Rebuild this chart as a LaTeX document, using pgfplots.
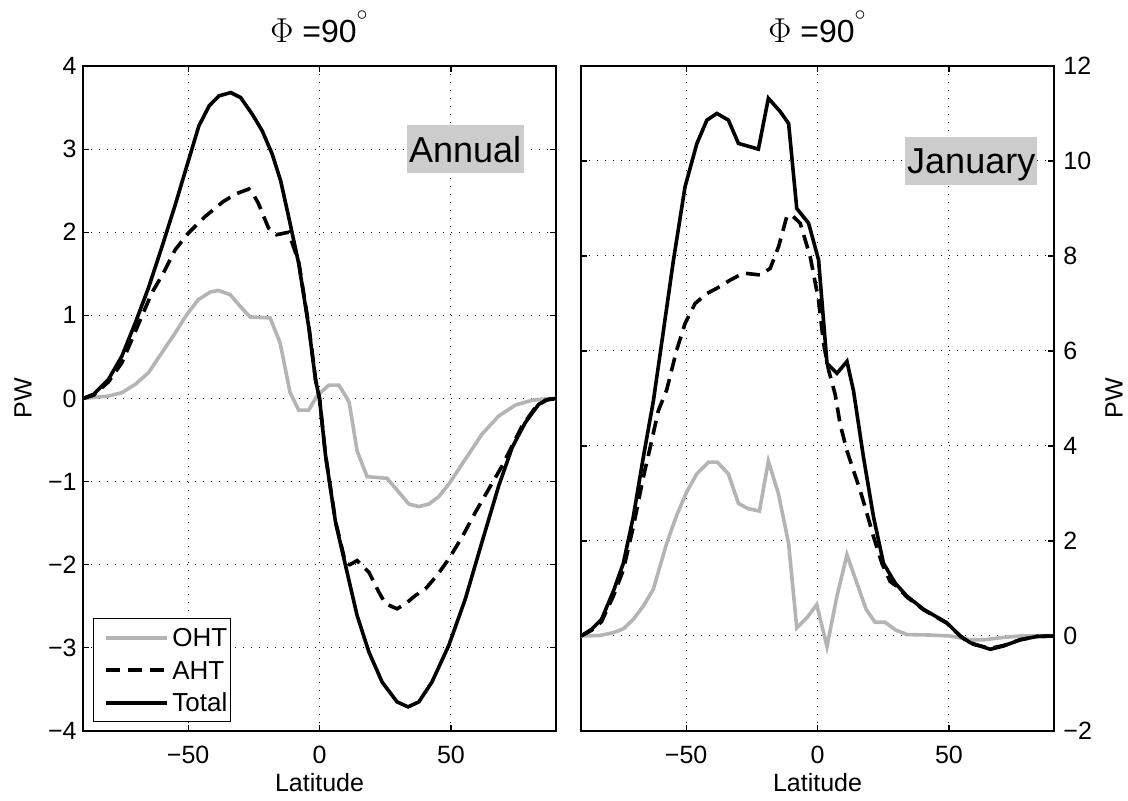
\documentclass[border=0pt]{standalone}
\usepackage{fontspec}
\setmainfont{Liberation Sans}
\usepackage{pgfplots}
\pgfplotsset{compat=1.18}
\definecolor{ohtgray}{RGB}{180,180,180}
\definecolor{boxgray}{RGB}{204,204,204}
\makeatletter
\newcommand{\legbbzero}{\pgf@protocolsizes{0pt}{0pt}}
\makeatother

\pgfplotstableread{
lat val
-90 0
-86 0.05
-80.3 0.23
-75.2 0.51
-70.1 0.91
-65.1 1.33
-60 1.82
-55 2.32
-49.7 2.88
-45.9 3.28
-42 3.52
-38.3 3.64
-33.8 3.68
-30 3.62
-25.6 3.42
-21.8 3.22
-18 2.94
-14.8 2.62
-11.7 2.18
-7.9 1.62
-4.1 0.86
-1.5 0.22
0 0
2.3 -0.69
6.1 -1.49
9.9 -2.01
14.3 -2.61
18.8 -3.05
23.8 -3.41
29.5 -3.65
33.7 -3.71
37.8 -3.65
42.8 -3.41
49.2 -2.97
55.5 -2.41
61.8 -1.73
68.2 -1.05
73.3 -0.59
78.3 -0.29
83.4 -0.07
87 -0.01
90 0
}\annTotal

\pgfplotstableread{
lat val
-90 0
-86 0.04
-80.3 0.2
-75.2 0.43
-71.4 0.71
-67.6 0.99
-63.8 1.27
-59.4 1.51
-54.9 1.79
-49.9 1.99
-43.5 2.19
-36.6 2.37
-31.9 2.46
-26.9 2.52
-25.6 2.48
-23.3 2.35
-19.4 2.05
-16.3 1.97
-11.8 2.0
-7.9 1.64
-4.1 0.88
-1.5 0.23
0 0
2.3 -0.68
6.1 -1.48
9.9 -1.98
11.5 -2.0
14.3 -1.95
18.8 -2.09
22.6 -2.33
25.1 -2.47
29.5 -2.53
32.7 -2.47
36.5 -2.37
40.3 -2.29
44.7 -2.13
49.2 -1.93
54.2 -1.67
59.3 -1.37
64.4 -1.09
69.5 -0.81
73.3 -0.57
77.1 -0.33
82.1 -0.11
86 -0.02
90 0
}\annAHT

\pgfplotstableread{
lat val
-90 0
-80.3 0.03
-75.2 0.07
-70.1 0.17
-65.1 0.31
-60 0.55
-54.9 0.79
-50.5 1.01
-46.1 1.19
-41.6 1.28
-38.5 1.3
-34 1.25
-30.2 1.11
-26.4 0.98
-18.8 0.97
-15 0.67
-11.2 0.07
-9.3 -0.05
-7.9 -0.14
-4.1 -0.14
-1 0.03
3.5 0.16
7.4 0.16
10.5 0
11.3 -0.05
14.3 -0.63
18.1 -0.94
25.7 -0.96
34 -1.27
37.8 -1.3
41.6 -1.27
45.4 -1.18
49.2 -1.03
55.5 -0.73
61.8 -0.43
68.2 -0.21
74.5 -0.08
80.9 -0.02
86 -0.005
90 0
}\annOHT

\pgfplotstableread{
lat val
-90 0
-86 0.14
-82.2 0.35
-77.7 0.94
-73.9 1.53
-70.1 2.51
-66.3 3.76
-62.4 4.97
-58.6 6.44
-54.8 7.92
-50.4 9.46
-45.9 10.37
-42.1 10.86
-38.3 11.0
-33.9 10.86
-30.1 10.37
-22.5 10.25
-18.7 11.32
-14.2 11.04
-11 10.79
-7.9 9.0
-3.4 8.69
0.4 7.92
3.6 5.74
7.4 5.53
11.2 5.78
13.7 5.16
17.5 3.76
21.3 2.51
25.1 1.53
29.6 1.11
34 0.84
40.4 0.56
49.2 0.28
54.3 0
58.1 -0.14
65.7 -0.28
70.8 -0.21
77.1 -0.08
83.5 -0.01
90 0
}\janTotal

\pgfplotstableread{
lat val
-90 0
-86 0.12
-82.2 0.3
-77.7 0.84
-73.9 1.39
-70.1 2.3
-66.3 3.34
-63.1 4.11
-60.6 4.74
-57.4 5.18
-53.6 6.02
-50.4 6.58
-46.6 7.0
-42.1 7.21
-38.3 7.32
-33.3 7.49
-28.2 7.64
-21.8 7.6
-18 7.74
-14.8 8.2
-11.7 8.83
-9.8 8.86
-6.6 8.69
-2.8 7.99
0.4 7.07
2.3 6.16
4.2 5.6
6.7 5.09
8.6 4.46
11.2 3.9
13.7 3.48
16.2 3.07
18.8 2.58
21.3 2.09
24.5 1.53
27.6 1.15
30 1.05
34 0.82
40.4 0.55
49.2 0.27
54.3 0
58.1 -0.16
65.7 -0.26
70.8 -0.2
77.1 -0.08
83.5 -0.01
90 0
}\janAHT

\pgfplotstableread{
lat val
-90 0
-82.9 0.01
-77.7 0.07
-73.9 0.15
-70.1 0.35
-66.3 0.63
-62.5 0.98
-57.4 1.95
-53.6 2.54
-49.8 3.03
-46 3.41
-41.5 3.66
-38.1 3.66
-33.9 3.41
-30.1 2.79
-26.3 2.68
-22.1 2.63
-18.7 3.68
-14.9 3.0
-11 1.95
-7.9 0.17
-4.1 0.38
-0.3 0.66
3.6 -0.22
7.4 0.84
11.2 1.71
15 1.11
18.5 0.56
21.9 0.29
25.7 0.29
29.6 0.13
34 0.03
42.9 0.02
50.5 0
58.1 -0.08
63.2 -0.08
70.8 -0.03
77.1 0
90 0.01
}\janOHT

\pgfplotsset{
  mystyle/.style={
    scale only axis, width=236.5pt, height=332.5pt,
    xmin=-90, xmax=90,
    clip mode=individual,
    xtick={-50,0,50}, xticklabels={−50,0,50},
    grid=major,
    major grid style={black, line width=0.5pt, dash pattern=on 0.5pt off 3.5pt},
    tick align=inside,
    major tick length=2.8pt,
    axis line style={line width=0.7pt},
    every tick/.style={black, line width=0.6pt},
    tick label style={font=\fontsize{12.5}{14}\selectfont},
    xticklabel style={anchor=base, inner sep=0pt, yshift=-16.5pt},
    label style={font=\fontsize{12.5}{14}\selectfont},
    xlabel={Latitude},
    xlabel style={at={(axis description cs:0.5,0)}, anchor=base, yshift=-30.5pt, inner sep=0pt},
    ylabel={PW},
  },
}
\newcommand{\phititle}{$\Phi$ =90\raisebox{4.6pt}{$^{\circ}$}}

\begin{document}
\begin{tikzpicture}
\begin{axis}[mystyle,
  at={(41.5pt,35pt)}, anchor=south west,
  ymin=-4, ymax=4, ytick={-4,-3,...,4},
  yticklabels={−4,−3,−2,−1,0,1,2,3,4},
  yticklabel style={anchor=east, inner sep=0pt, xshift=-3pt},
  ylabel style={at={(axis description cs:-0.1266,0.5)}, anchor=center, rotate=0},
  legend cell align=left,
  legend style={at={(axis description cs:0.0211,0.0135)}, anchor=south west,
    draw=black, inner xsep=0pt, inner ysep=1.4pt,
    font=\fontsize{13}{15}\selectfont, row sep=0pt,
    nodes={inner xsep=1.75pt, inner ysep=3.47pt, text height=9.3pt, text depth=0pt, font=\fontsize{13}{15}\selectfont}},
  legend image code/.code={\legbbzero\draw[#1, line width=2pt] plot coordinates {(5.25pt,0pt) (20.5pt,0pt) (35.75pt,0pt)};},
]
\addplot[color=ohtgray, line width=1.8pt] table[x=lat,y=val] {\annOHT};
\addlegendentry{OHT}
\addplot[color=black, line width=1.8pt, dashed, dash pattern=on 7pt off 4pt] table[x=lat,y=val] {\annAHT};
\addlegendentry{AHT}
\addplot[color=black, line width=1.8pt] table[x=lat,y=val] {\annTotal};
\addlegendentry{Total}
\node[fill=boxgray, inner sep=0pt, minimum width=58.5pt, minimum height=24pt,
  text height=12.9pt, text depth=0pt, font=\fontsize{18}{20}\selectfont]
  at (axis cs:55.4,3.0) {Annual};
\node[anchor=base, inner sep=0pt, font=\fontsize{16}{18}\selectfont]
  at (axis description cs:0.5,1.035) {\phititle};
\end{axis}

\begin{axis}[mystyle,
  at={(290.5pt,35pt)}, anchor=south west,
  ymin=-2, ymax=12, ytick={-2,0,...,12},
  yticklabels={−2,0,2,4,6,8,10,12},
  yticklabel pos=right,
  yticklabel style={anchor=west, inner sep=0pt, xshift=4.5pt},
  ylabel style={at={(axis description cs:1.127,0.5)}, anchor=center, rotate=0},
]
\addplot[color=ohtgray, line width=1.8pt] table[x=lat,y=val] {\janOHT};
\addplot[color=black, line width=1.8pt, dashed, dash pattern=on 7pt off 4pt] table[x=lat,y=val] {\janAHT};
\addplot[color=black, line width=1.8pt] table[x=lat,y=val] {\janTotal};
\node[fill=boxgray, inner sep=0pt, minimum width=66pt, minimum height=24pt,
  text height=12.9pt, text depth=0pt, font=\fontsize{18}{20}\selectfont]
  at (axis cs:58.5,10) {January};
\node[anchor=base, inner sep=0pt, font=\fontsize{16}{18}\selectfont]
  at (axis description cs:0.5,1.035) {\phititle};
\end{axis}
\pgfresetboundingbox
\path (0,0) rectangle (564pt,400.5pt);
\end{tikzpicture}
\end{document}
